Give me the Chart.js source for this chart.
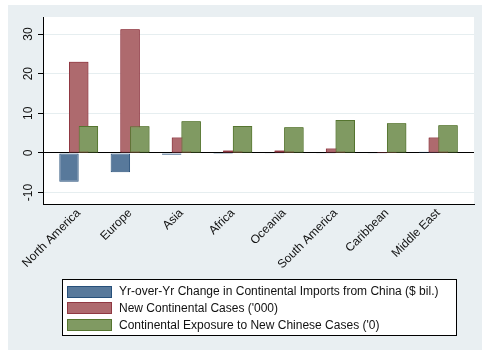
<!DOCTYPE html>
<html>
<head>
<meta charset="utf-8">
<script src="https://cdn.jsdelivr.net/npm/chart.js@4/dist/chart.umd.min.js"></script>
<style>
  html, body { margin: 0; padding: 0; background: #ffffff; }
  #wrap { width: 482px; height: 352px; }
</style>
</head>
<body>
<div id="wrap"><canvas id="c" width="482" height="352"></canvas></div>
<script>
// Continents on the horizontal axis
const categories = ['North America', 'Europe', 'Asia', 'Africa', 'Oceania', 'South America', 'Caribbean', 'Middle East'];

// Series values, one per continent
const importChange = [-7.3, -4.9, -0.5, -0.3, -0.1, -0.2, -0.1, 0.3];
const newCases     = [23.0, 31.2, 3.9, 0.6, 0.6, 1.1, 0.2, 3.9];
const exposure     = [6.8, 6.7, 8.0, 6.8, 6.5, 8.3, 7.5, 7.0];

const seriesNames = [
  'Yr-over-Yr Change in Continental Imports from China ($ bil.)',
  "New Continental Cases ('000)",
  "Continental Exposure to New Chinese Cases ('0)"
];

// Vertical axis tick values
const yTicks = [-10, 0, 10, 20, 30];

const FONT = '"Liberation Sans", Arial, Helvetica, sans-serif';
const fills   = ['#58799b', '#ae6a6e', '#809a62'];
const borders = ['#27507a', '#903842', '#55752f'];

const X_MIN = -0.695;
const X_MAX = categories.length - 1 + 0.695;
const Y_MIN = -12.9;
const Y_MAX = 34.3;

// Page, plot region and legend box painting
const framePlugin = {
  id: 'frame',
  beforeDraw(chart) {
    const ctx = chart.ctx;
    const a = chart.chartArea;
    ctx.save();
    ctx.fillStyle = '#ffffff';
    ctx.fillRect(0, 0, chart.width, chart.height);
    ctx.fillStyle = '#e9eff2';
    ctx.fillRect(8, 5, chart.width - 8, 345);
    ctx.fillStyle = '#ffffff';
    ctx.fillRect(a.left, a.top, a.right - a.left, a.bottom - a.top);
    ctx.restore();
  },
  afterDatasetsDraw(chart) {
    // later series sit on top of earlier ones where bars overlap
    [1, 2].forEach(i => chart.getDatasetMeta(i).controller.draw());
  },
  afterDraw(chart) {
    const ctx = chart.ctx;
    const y = chart.scales.y;
    ctx.save();
    // rotated value labels on the vertical axis
    ctx.fillStyle = '#111111';
    ctx.font = '12px ' + FONT;
    ctx.textAlign = 'center';
    ctx.textBaseline = 'middle';
    yTicks.forEach(v => {
      const py = y.getPixelForValue(v);
      ctx.save();
      ctx.translate(29, py);
      ctx.rotate(-Math.PI / 2);
      ctx.fillText(String(v), 0, 0);
      ctx.restore();
    });

    // legend box
    const bx = 62.5, by = 279.5, bw = 394, bh = 56;
    ctx.fillStyle = '#ffffff';
    ctx.fillRect(bx, by, bw, bh);
    ctx.strokeStyle = '#000000';
    ctx.lineWidth = 1;
    ctx.strokeRect(bx, by, bw, bh);
    ctx.textAlign = 'left';
    seriesNames.forEach((name, i) => {
      const cy = 291.5 + i * 16.8;
      const top = Math.round(cy - 6);
      ctx.fillStyle = fills[i];
      ctx.fillRect(67, top, 45, 12);
      ctx.strokeStyle = borders[i];
      ctx.strokeRect(67.5, top + 0.5, 44, 11);
      ctx.fillStyle = '#111111';
      ctx.fillText(name, 119, cy + 0.5);
    });
    ctx.restore();
  }
};

const datasets = [importChange, newCases, exposure].map((vals, i) => ({
  label: seriesNames[i],
  data: vals,
  backgroundColor: fills[i],
  borderColor: borders[i],
  borderWidth: 1,
  borderSkipped: false,
  categoryPercentage: 0.567,
  barPercentage: 2
}));

new Chart(document.getElementById('c'), {
  type: 'bar',
  data: {
    labels: categories.map((_, i) => i),
    datasets
  },
  options: {
    responsive: false,
    animation: false,
    events: [],
    layout: { autoPadding: false, padding: { left: 0, right: 8, top: 17, bottom: 0 } },
    plugins: { legend: { display: false }, tooltip: { enabled: false } },
    scales: {
      x: {
        type: 'linear',
        offset: false,
        bounds: 'data',
        min: X_MIN,
        max: X_MAX,
        afterDataLimits(scale) { scale.min = X_MIN; scale.max = X_MAX; },
        afterBuildTicks(scale) {
          scale.min = X_MIN; scale.max = X_MAX;
          scale.ticks = categories.map((_, i) => ({ value: i }));
        },
        afterFit(scale) { scale.height = 148; scale.paddingLeft = 0; scale.paddingRight = 0; },
        grid: { display: false, drawTicks: false, tickLength: 0, offset: false },
        border: { display: true, color: '#000000', width: 1 },
        ticks: {
          autoSkip: false,
          minRotation: 45,
          maxRotation: 45,
          padding: 2,
          color: '#111111',
          font: { family: FONT, size: 12 },
          callback: v => categories[v]
        }
      },
      y: {
        min: Y_MIN,
        max: Y_MAX,
        afterBuildTicks(scale) {
          scale.ticks = yTicks.map(v => ({ value: v }));
        },
        afterFit(scale) { scale.width = 43; },
        grid: {
          color: ctx => (ctx.tick && ctx.tick.value === 0) ? '#000000' : '#e6eef0',
          lineWidth: 1,
          drawTicks: true,
          tickLength: 5,
          tickColor: '#000000'
        },
        border: { display: true, color: '#000000', width: 1 },
        ticks: { display: false }
      }
    }
  },
  plugins: [framePlugin]
});
</script>
</body>
</html>
